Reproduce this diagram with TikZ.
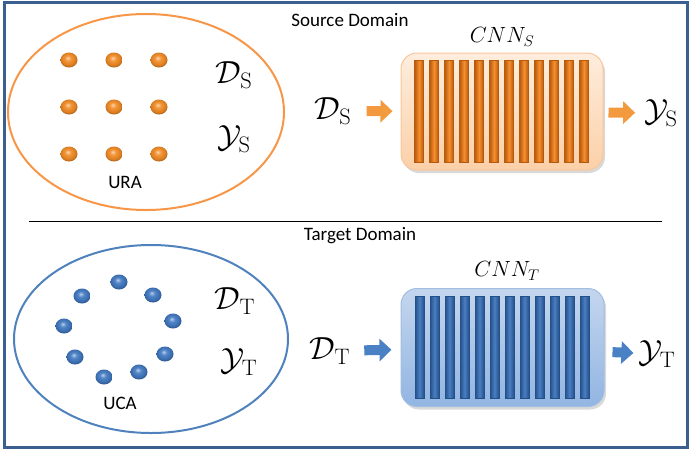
\IfFileExists{fix-cm.sty}{\RequirePackage{fix-cm}}{}
\documentclass[tikz,border=0pt]{standalone}
\usepackage{amsmath,amssymb}
\usepackage[no-math]{fontspec}
\setmainfont{Carlito}
\usetikzlibrary{arrows.meta, positioning, shapes.geometric, shadows, calc}
\definecolor{frame}{HTML}{3B5F8E}
\definecolor{srcline}{HTML}{F79646}
\definecolor{srcdot}{HTML}{F28A22}
\definecolor{srcboxtop}{HTML}{FEEDDD}
\definecolor{srcboxbot}{HTML}{FBD0A8}
\definecolor{srcboxline}{HTML}{F8C69C}
\definecolor{srcbar}{HTML}{B85A0C}
\definecolor{srcbarmid}{HTML}{F58E2E}
\definecolor{srcarrow}{HTML}{F39A3E}
\definecolor{tgtline}{HTML}{4F81BD}
\definecolor{tgtdot}{HTML}{3F77C2}
\definecolor{tgtboxtop}{HTML}{C4D6EE}
\definecolor{tgtboxbot}{HTML}{92B5E2}
\definecolor{tgtboxline}{HTML}{A0BDE2}
\definecolor{tgtbar}{HTML}{24508A}
\definecolor{tgtbarmid}{HTML}{4A7FC2}
\definecolor{tgtarrow}{HTML}{4A80C4}
\pgfdeclareradialshading{srcball}{\pgfpoint{-4bp}{7bp}}{%
  color(0bp)=(srcdot!35!white); color(9bp)=(srcdot!90!white);
  color(22bp)=(srcdot!90!black); color(27bp)=(srcdot!70!black);
  color(50bp)=(srcdot!70!black)}
\pgfdeclareradialshading{tgtball}{\pgfpoint{-4bp}{7bp}}{%
  color(0bp)=(tgtdot!35!white); color(9bp)=(tgtdot!90!white);
  color(22bp)=(tgtdot!90!black); color(27bp)=(tgtdot!70!black);
  color(50bp)=(tgtdot!70!black)}

\begin{document}
\begin{tikzpicture}[x=1pt, y=-1pt,
  domaintitle/.style={font=\fontsize{19}{22}\selectfont},
  arraylabel/.style={font=\fontsize{19}{22}\selectfont},
  setlabel/.style={inner sep=0pt, font=\fontsize{32}{36}\selectfont},
  cnnlabel/.style={font=\fontsize{22}{26}\selectfont},
  antennaset/.style={ellipse, line width=2pt},
  antenna/.style={ellipse, minimum width=17pt, minimum height=15pt,
    inner sep=0pt, shade},
  cnnbox/.style={rectangle, rounded corners=16pt, line width=1pt,
    drop shadow={opacity=0.3, shadow xshift=2pt, shadow yshift=-3pt}},
  layer/.style={rectangle, minimum width=9pt, minimum height=102pt,
    inner sep=0pt, line width=0.6pt},
  flow/.style={line width=10pt, -{Triangle[length=12pt, width=22pt]}}]
  \useasboundingbox (0,0) rectangle (692,453);
  \draw[frame, line width=3pt] (4.5,2) rectangle (687.5,447.5);
  \draw[black, line width=0.8pt] (29,221) -- (662,221);

  % Source domain
  \node[domaintitle] (srctitle) at (350,20) {Source Domain};
  \node[antennaset, draw=srcline, minimum width=276pt, minimum height=196pt]
    (srcset) at (146,112) {};
  \foreach \x in {69,114,159}
    \foreach \y in {60,107,154}
      \node[antenna, shading=srcball] (s\x\y) at (\x,\y) {};
  \node[arraylabel] (ura) at (125,182) {URA};
  \node[setlabel] (dsin) at (234,75) {$\mathcal{D}_{\mathrm{S}}$};
  \node[setlabel] (ysin) at (234,139) {$\mathcal{Y}_{\mathrm{S}}$};

  \node[cnnbox, top color=srcboxtop, bottom color=srcboxbot, draw=srcboxline,
    minimum width=202pt, minimum height=117pt] (cnnS) at (502,111.5) {};
  \foreach \i in {0,...,11}
    \node[layer, left color=srcbar, right color=srcbar, middle color=srcbarmid,
      draw=srcbar] (ls\i) at ($(cnnS.center)+(-83+15*\i,0)$) {};
  \node[cnnlabel] (cnnSname) at (502,37) {$CNN_S$};

  \node[setlabel] (dsout) at (333,111) {$\mathcal{D}_{\mathrm{S}}$};
  \node[setlabel] (ysout) at (661,113) {$\mathcal{Y}_{\mathrm{S}}$};
  \draw[flow, srcarrow, shorten <=15pt, shorten >=8pt] (dsout) -- (cnnS);
  \draw[flow, srcarrow, shorten <=5pt, shorten >=9pt] (cnnS) -- (ysout);

  % Target domain
  \node[domaintitle] (tgttitle) at (360,236) {Target Domain};
  \node[antennaset, draw=tgtline, minimum width=274pt, minimum height=188pt]
    (tgtset) at (151,339) {};
  \foreach \x/\y [count=\k] in {119/282, 82/296, 153/295, 64/326, 173/321,
                                75/357, 165/354, 104/377, 139/372}
    \node[antenna, shading=tgtball] (t\k) at (\x,\y) {};
  \node[arraylabel] (uca) at (120,403) {UCA};
  \node[setlabel] (dtin) at (235,301) {$\mathcal{D}_{\mathrm{T}}$};
  \node[setlabel] (ytin) at (239,362) {$\mathcal{Y}_{\mathrm{T}}$};

  \node[cnnbox, top color=tgtboxtop, bottom color=tgtboxbot, draw=tgtboxline,
    minimum width=203pt, minimum height=118pt] (cnnT) at (502.5,347.5) {};
  \foreach \i in {0,...,11}
    \node[layer, left color=tgtbar, right color=tgtbar, middle color=tgtbarmid,
      draw=tgtbar] (lt\i) at ($(cnnT.center)+(-83+15*\i,0)$) {};
  \node[cnnlabel] (cnnTname) at (507,271) {$CNN_T$};

  \node[setlabel] (dtout) at (330,351) {$\mathcal{D}_{\mathrm{T}}$};
  \node[setlabel] (ytout) at (657,354) {$\mathcal{Y}_{\mathrm{T}}$};
  \draw[flow, tgtarrow, shorten <=14pt, shorten >=9pt] (dtout) -- (cnnT);
  \draw[flow, tgtarrow, shorten <=8pt, shorten >=5pt] (cnnT) -- (ytout);
\end{tikzpicture}
\end{document}
